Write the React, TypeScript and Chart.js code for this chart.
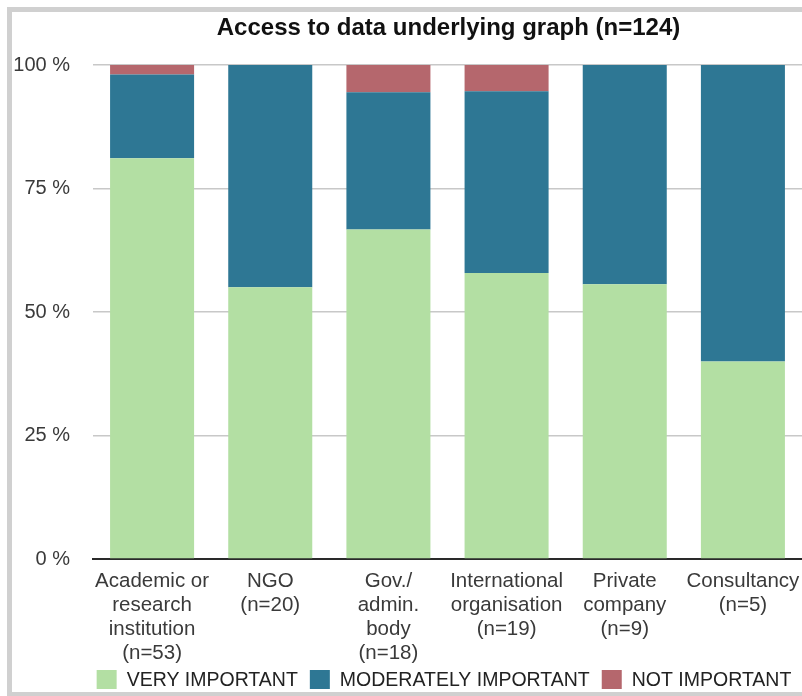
import React, { useEffect, useRef } from "react";
import { Chart, registerables } from "chart.js";

Chart.register(...registerables);

const titleText = "Access to data underlying graph (n=124)";
const categories = [
  ["Academic or", "research", "institution", "(n=53)"],
  ["NGO", "(n=20)"],
  ["Gov./", "admin.", "body", "(n=18)"],
  ["International", "organisation", "(n=19)"],
  ["Private", "company", "(n=9)"],
  ["Consultancy", "(n=5)"],
];
const seriesNames = ["VERY IMPORTANT", "MODERATELY IMPORTANT", "NOT IMPORTANT"];
const veryImportant = [81.1, 55.0, 66.7, 57.9, 55.6, 40.0];
const moderatelyImportant = [17.0, 45.0, 27.8, 36.8, 44.4, 60.0];
const notImportant = [1.9, 0, 5.6, 5.3, 0, 0];
const yTicks = [0, 25, 50, 75, 100];

const colors = ["#b3dfa3", "#2e7794", "#b5676d"];
const FONT = "'Liberation Sans', Arial, Helvetica, sans-serif";

const titleLegendPlugin = {
  id: "titleLegend",
  afterDraw(chart: any) {
    const ctx = chart.ctx;
    ctx.save();
    // title
    ctx.font = `bold 24px ${FONT}`;
    ctx.fillStyle = "#111";
    ctx.textAlign = "center";
    ctx.textBaseline = "alphabetic";
    ctx.fillText(titleText, 436.5, 23);

    // legend
    const fontSize = 19.5;
    const boxW = 20;
    const boxH = 19;
    const gap = 10;
    const itemGap = 12;
    ctx.font = `${fontSize}px ${FONT}`;
    const items = chart.data.datasets.map((ds: any) => ({
      text: ds.label,
      color: ds.backgroundColor,
      w: boxW + gap + ctx.measureText(ds.label).width,
    }));
    const total = items.reduce((a: number, it: any) => a + it.w, 0) + itemGap * (items.length - 1);
    let x = 432 - total / 2;
    const boxTop = 658;
    ctx.textBaseline = "middle";
    ctx.textAlign = "left";
    items.forEach((it: any) => {
      ctx.fillStyle = it.color;
      ctx.fillRect(x, boxTop, boxW, boxH);
      ctx.fillStyle = "#222";
      ctx.fillText(it.text, x + boxW + gap, boxTop + boxH / 2 + 1);
      x += it.w + itemGap;
    });
    ctx.restore();
  },
};

export default function App() {
  const ref = useRef<HTMLCanvasElement | null>(null);

  useEffect(() => {
    if (!ref.current) return;
    const chart = new Chart(ref.current, {
      type: "bar",
      data: {
        labels: categories,
        datasets: [veryImportant, moderatelyImportant, notImportant].map((d, i) => ({
          label: seriesNames[i],
          data: d,
          backgroundColor: colors[i],
          borderWidth: 0,
          categoryPercentage: 1,
          barPercentage: 0.711,
        })),
      },
      plugins: [titleLegendPlugin],
      options: {
        animation: false,
        responsive: false,
        maintainAspectRatio: false,
        layout: { padding: { top: 53, left: 0, right: 0, bottom: 23 } },
        plugins: {
          title: { display: false },
          legend: { display: false },
          tooltip: { enabled: false },
        },
        scales: {
          x: {
            stacked: true,
            grid: { display: false, drawTicks: false },
            border: { display: true, color: "#2a2a2a", width: 2 },
            ticks: {
              color: "#3a3a3a",
              font: { family: FONT, size: 20.5, lineHeight: 1.17 },
              padding: 10,
              maxRotation: 0,
              autoSkip: false,
            },
            afterFit: (s: any) => {
              s.height = 110;
              s.paddingLeft = 0;
              s.paddingRight = 0;
            },
          },
          y: {
            stacked: true,
            min: 0,
            max: 100,
            afterBuildTicks: (s: any) => {
              s.ticks = yTicks.map((v) => ({ value: v }));
            },
            grid: {
              drawTicks: false,
              lineWidth: 1.5,
              color: (c: any) => (c.tick && c.tick.value === 0 ? "rgba(0,0,0,0)" : "#c8c8c8"),
            },
            border: { display: false },
            ticks: {
              color: "#3a3a3a",
              font: { family: FONT, size: 20 },
              padding: 23,
              callback: (v: any) => `${v} %`,
            },
            afterFit: (s: any) => {
              s.width = 81;
            },
          },
        },
      },
    });
    return () => chart.destroy();
  }, []);

  return (
    <div
      style={{
        position: "fixed",
        left: 7,
        top: 7,
        width: 790,
        height: 680,
        borderTop: "5px solid #d0d0d0",
        borderLeft: "5px solid #d0d0d0",
        borderBottom: "5px solid #d0d0d0",
        background: "#fff",
      }}
    >
      <canvas ref={ref} width={790} height={680} style={{ display: "block", width: 790, height: 680 }} />
    </div>
  );
}
